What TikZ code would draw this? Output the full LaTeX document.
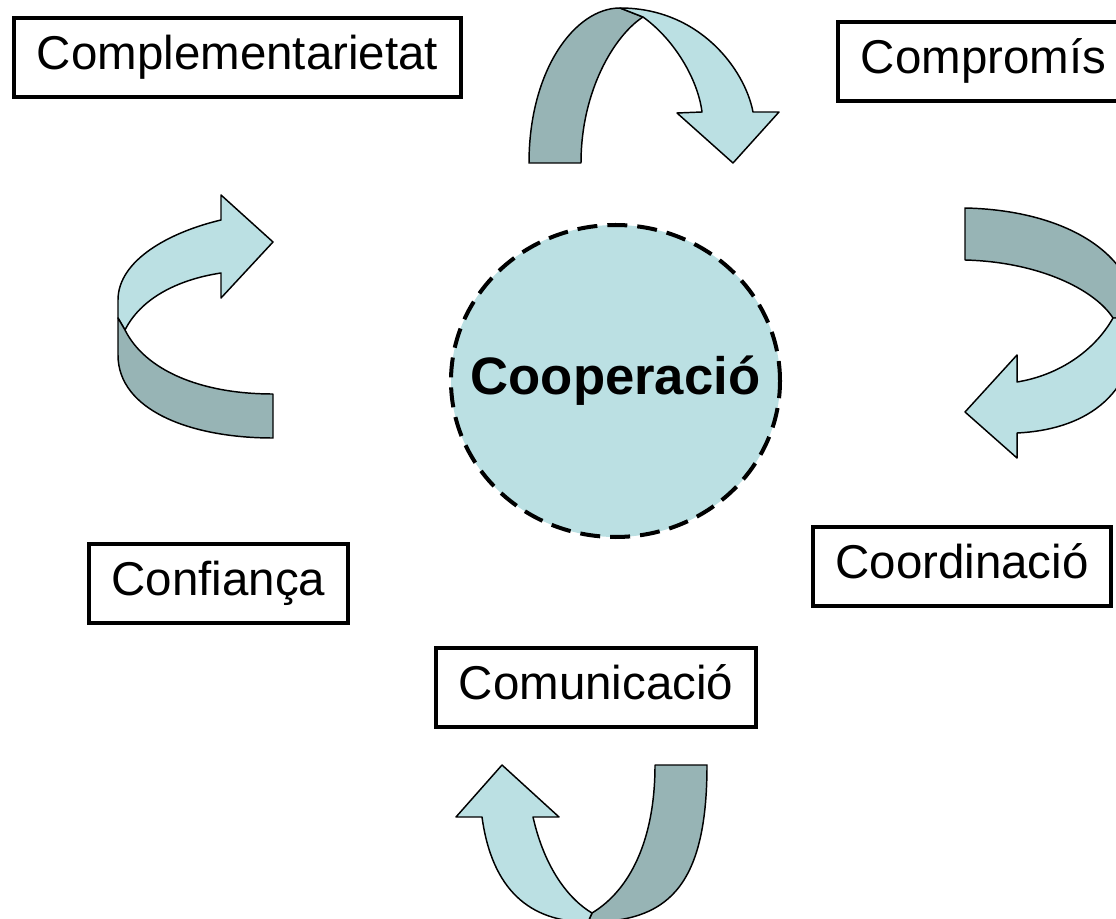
\documentclass[tikz,border=0pt]{standalone}
\usepackage{fontspec}
\setmainfont{Liberation Sans}
\usetikzlibrary{positioning}
\usetikzlibrary{shapes.geometric}

\definecolor{ribbonlight}{RGB}{187,224,227}
\definecolor{ribbondark}{RGB}{151,180,181}

\begin{document}
\begin{tikzpicture}[x=0.75pt,y=-0.75pt,
                    concept/.style={rectangle,draw,line width=3pt,minimum height=59pt,
                      inner xsep=16.9pt,text height=25.5pt,text depth=7.5pt,
                      font=\fontsize{35.6}{40}\selectfont},
                    core/.style={ellipse,draw,line width=3pt,dash pattern=on 15pt off 7.5pt,
                      fill=ribbonlight,inner sep=0pt,minimum width=246.75pt,minimum height=234pt,
                      font=\bfseries\fontsize{39.5}{44}\selectfont},
                    front/.style={draw,fill=ribbonlight,line width=1.1pt,line join=round},
                    back/.style={draw,fill=ribbondark,line width=1.1pt,line join=round}]

  \useasboundingbox (0,0) rectangle (1116,919);
  \clip (0,0) rectangle (1116,919);

  % top ribbon
  \draw[back] (529,163) .. controls (529,70) and (575,8) .. (620,8) -- (643,17)
    .. controls (615,35) and (581,90) .. (581,163) -- cycle;
  \draw[front] (620,8) .. controls (700,8) and (745,70) .. (753,112) -- (779,112)
    -- (733,163) -- (677,113) -- (702,112) .. controls (698,80) and (675,40) .. (643,17) -- cycle;

  % right ribbon
  \draw[back] (965,208) .. controls (1060,210) and (1135,250) .. (1137,318) -- (1113,318)
    .. controls (1095,290) and (1040,262) .. (965,260) -- cycle;
  \draw[front] (1137,318) .. controls (1137,400) and (1080,430) .. (1017,433) -- (1017,458)
    -- (965,412) -- (1017,355) -- (1017,382) .. controls (1060,375) and (1095,350) .. (1113,318) -- cycle;

  % bottom ribbon
  \draw[back] (655,765) -- (707,765) .. controls (707,890) and (665,922) .. (588,922)
    -- (592,913) .. controls (630,890) and (655,840) .. (655,765) -- cycle;
  \draw[front] (588,922) .. controls (530,922) and (492,890) .. (482,817) -- (456,817)
    -- (502,765) -- (559,817) -- (533,817) .. controls (545,870) and (570,900) .. (592,913) -- cycle;

  % left ribbon
  \draw[front] (221,220) .. controls (170,232) and (118,260) .. (118,300) -- (118,318)
    -- (125,330) .. controls (140,300) and (175,280) .. (221,273) -- (221,298)
    -- (273,242) -- (221,195) -- cycle;
  \draw[back] (118,318) -- (118,355) .. controls (118,410) and (190,438) .. (273,438)
    -- (273,394) .. controls (200,394) and (145,370) .. (125,330) -- cycle;

  \node[core] (coop) at (615.5,381) {\makebox[0pt]{Cooperació}};

  \node[concept] (compl) at (237.5,57.5) {Complementarietat};
  \node[concept] (compr) at (983.5,61.5) {Compromís};
  \node[concept] (coord) at (962,566.5) {Coordinació};
  \node[concept] (conf) at (218.5,583.5) {Confiança};
  \node[concept] (comu) at (596,687.5) {Comunicació};
\end{tikzpicture}
\end{document}
